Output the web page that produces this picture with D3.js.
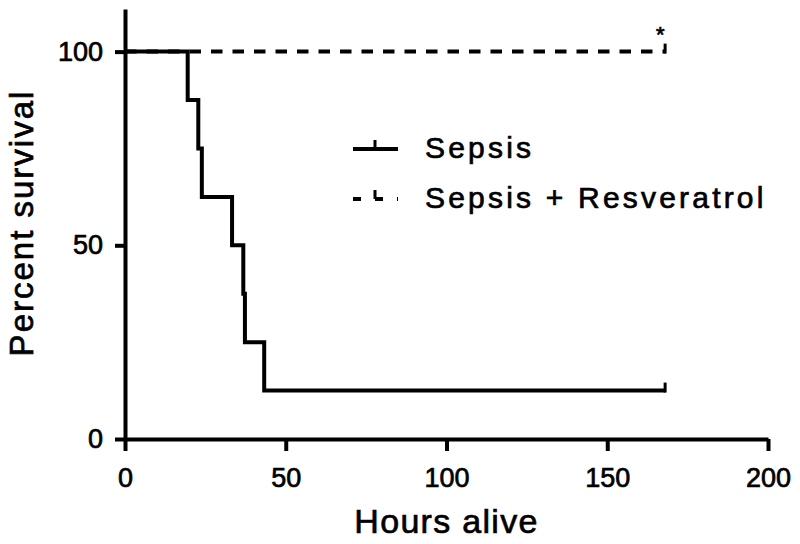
<!DOCTYPE html>
<html>
<head>
<meta charset="utf-8">
<script src="https://cdn.jsdelivr.net/npm/d3@7"></script>
<style>
  body { margin: 0; background: #fff; }
  svg text { font-family: "Liberation Sans", Arial, sans-serif; fill: #000; stroke: #000; stroke-width: 0.7px; }
</style>
</head>
<body>
<div id="canvas"></div>
<script>
// Kaplan-Meier curves
var sepsisTimes = [0, 19.5, 22.8, 23.9, 33.3, 36.8, 37.3, 43.3, 168];
var sepsisSurvival = [100, 87.5, 75, 62.5, 50, 37.5, 25, 12.5, 12.5];
var resvTimes = [0, 168];
var resvSurvival = [100, 100];
var xTicks = [0, 50, 100, 150, 200];
var yTicks = [0, 50, 100];
var seriesNames = ['Sepsis', 'Sepsis + Resveratrol'];

var outerWidth = 800, outerHeight = 544;

var svg = d3.select('#canvas')
    .append('svg')
    .attr('width', outerWidth)
    .attr('height', outerHeight);

var scaleX = d3.scaleLinear().domain([0, 200]).range([125, 768]);
var scaleY = d3.scaleLinear().domain([0, 111]).range([439, 9]);

// axes
var axisX = d3.axisBottom(scaleX)
    .tickValues(xTicks)
    .tickSize(12)
    .tickSizeOuter(0)
    .tickPadding(17);
var axisY = d3.axisLeft(scaleY)
    .tickValues(yTicks)
    .tickSize(10)
    .tickSizeOuter(0)
    .tickPadding(12);

var gx = svg.append('g')
    .attr('transform', 'translate(0,' + scaleY(0) + ')')
    .call(axisX);
var gy = svg.append('g')
    .attr('transform', 'translate(' + scaleX(0) + ',0)')
    .call(axisY);

[gx, gy].forEach(function(g){
    g.select('.domain').attr('stroke', '#000').attr('stroke-width', 4);
    g.selectAll('.tick line').attr('stroke', '#000').attr('stroke-width', 4);
    g.selectAll('.tick text')
        .style('font-family', '"Liberation Sans", Arial, sans-serif')
        .style('font-size', '27px')
        .attr('fill', '#000');
});

// curves
var line = d3.line()
    .curve(d3.curveStepAfter)
    .x(function(d){ return scaleX(d[0]); })
    .y(function(d){ return scaleY(d[1]); });

var resvData = resvTimes.map(function(t, i){ return [t, resvSurvival[i]]; });
var sepsisData = sepsisTimes.map(function(t, i){ return [t, sepsisSurvival[i]]; });

svg.append('path')
    .datum(resvData)
    .attr('d', line)
    .attr('fill', 'none')
    .attr('stroke', '#000')
    .attr('stroke-width', 4)
    .attr('stroke-dasharray', '11.5,10');

svg.append('path')
    .datum(sepsisData)
    .attr('d', line)
    .attr('fill', 'none')
    .attr('stroke', '#000')
    .attr('stroke-width', 4);

// censor ticks at the last time point
[[sepsisTimes[sepsisTimes.length-1], sepsisSurvival[sepsisSurvival.length-1]],
 [resvTimes[resvTimes.length-1], resvSurvival[resvSurvival.length-1]]].forEach(function(d){
    svg.append('line')
        .attr('x1', scaleX(d[0]))
        .attr('x2', scaleX(d[0]))
        .attr('y1', scaleY(d[1]) + 2)
        .attr('y2', scaleY(d[1]) - 8)
        .attr('stroke', '#000')
        .attr('stroke-width', 3);
});

// significance mark
svg.append('text')
    .attr('x', scaleX(166.5))
    .attr('y', 42)
    .attr('text-anchor', 'middle')
    .style('font-size', '22px')
    .text('*');

// axis titles
svg.append('text')
    .attr('x', scaleX(100))
    .attr('y', 533)
    .attr('text-anchor', 'middle')
    .style('font-size', '34px')
    .style('letter-spacing', '1.3px')
    .text('Hours alive');

svg.append('text')
    .attr('transform', 'translate(33,223) rotate(-90)')
    .attr('text-anchor', 'middle')
    .style('font-size', '33px')
    .style('letter-spacing', '2px')
    .text('Percent survival');

// legend
var legend = svg.append('g').attr('transform', 'translate(353,0)');
var legendY = [149, 199];
seriesNames.forEach(function(name, i){
    var row = legend.append('g').attr('transform', 'translate(0,' + legendY[i] + ')');
    row.append('line')
        .attr('x1', 0).attr('x2', 45)
        .attr('y1', 0).attr('y2', 0)
        .attr('stroke', '#000')
        .attr('stroke-width', 4)
        .attr('stroke-dasharray', i === 1 ? '8,14' : null);
    row.append('line')
        .attr('x1', 22).attr('x2', 22)
        .attr('y1', 0).attr('y2', -9)
        .attr('stroke', '#000')
        .attr('stroke-width', 3);
    row.append('text')
        .attr('x', 72)
        .attr('y', 9)
        .style('font-size', '30px')
        .style('letter-spacing', '3.2px')
        .text(name);
});
</script>
</body>
</html>
